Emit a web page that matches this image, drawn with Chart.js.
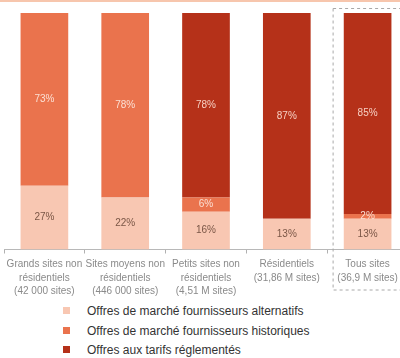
<!DOCTYPE html>
<html><head><meta charset="utf-8">
<script src="https://cdn.jsdelivr.net/npm/chart.js@4"></script>
<style>
html,body{margin:0;padding:0;background:#fff;}
#wrap{position:relative;width:400px;height:358px;overflow:hidden;}
#topline{position:absolute;left:0;top:0;width:400px;height:2px;background:#f7c6ad;}
#cv{position:absolute;left:0;top:0;}
#legend{position:absolute;left:63px;top:302px;font-family:"Liberation Sans",Arial,sans-serif;font-size:12px;color:#333;}
.li{height:19.5px;line-height:19.5px;white-space:nowrap;}
.sw{display:inline-block;width:7px;height:7px;margin-right:17px;vertical-align:middle;position:relative;top:-1px;}
</style></head>
<body><div id="wrap"><canvas id="cv" width="410" height="302" style="width:410px;height:302px"></canvas><div id="topline"></div>
<div id="legend"></div></div>
<script>
const categories = [
  ["Grands sites non","résidentiels","(42 000 sites)"],
  ["Sites moyens non","résidentiels","(446 000 sites)"],
  ["Petits sites non","résidentiels","(4,51 M sites)"],
  ["Résidentiels","(31,86 M sites)"],
  ["Tous sites","(36,9 M sites)"]
];
const seriesNames = ["Offres de marché fournisseurs alternatifs","Offres de marché fournisseurs historiques","Offres aux tarifs réglementés"];
const alternatifs = [27, 22, 16, 13, 13];
const historiques = [73, 78, 6, 0, 2];
const reglementes = [0, 0, 78, 87, 85];
const colors = ["#f8c7b2","#ea734d","#b53119"];
const labelColors = ["#7a5646","#fbe0d4","#f6cfc2"];

const dataLabels = {
  id:'dataLabels',
  afterDatasetsDraw(chart){
    const ctx = chart.ctx;
    ctx.save();
    ctx.font = '10px "Liberation Sans", Arial, sans-serif';
    ctx.textAlign='center'; ctx.textBaseline='middle';
    chart.data.datasets.forEach((ds,i)=>{
      const meta = chart.getDatasetMeta(i);
      meta.data.forEach((bar,j)=>{
        const v = ds.data[j];
        if(!v) return;
        const y = (bar.y + bar.base)/2;
        ctx.fillStyle = labelColors[i];
        ctx.fillText(v+'%', bar.x, y);
      });
    });
    ctx.restore();
  }
};
const dashBox = {
  id:'dashBox',
  afterDraw(chart){
    const ctx=chart.ctx, xs=chart.scales.x, ca=chart.chartArea;
    const x = xs.getPixelForValue(4) - 35;
    const right = xs.getPixelForValue(4) + 45;
    ctx.save();
    ctx.strokeStyle='#a8a8a8'; ctx.lineWidth=1; ctx.setLineDash([3,3]);
    ctx.strokeRect(x+0.5, ca.top-5+0.5, right-x, ca.bottom+40-(ca.top-5));
    ctx.restore();
  }
};

new Chart(document.getElementById('cv'),{
  type:'bar',
  data:{labels:categories,datasets:[
    {label:seriesNames[0],data:alternatifs,backgroundColor:colors[0]},
    {label:seriesNames[1],data:historiques,backgroundColor:colors[1]},
    {label:seriesNames[2],data:reglementes,backgroundColor:colors[2]}
  ]},
  options:{
    responsive:false,animation:false,
    layout:{padding:{top:13,left:4,right:2,bottom:0}},
    plugins:{legend:{display:false},tooltip:{enabled:false}},
    datasets:{bar:{categoryPercentage:1,barPercentage:0.59}},
    scales:{
      x:{stacked:true,
        grid:{display:true,drawOnChartArea:false,drawTicks:true,tickLength:4,color:'#b0b0b0',offset:true},
        border:{display:true,color:'#b8b8b8'},
        ticks:{color:'#8a8a8a',font:{size:10,family:'"Liberation Sans", Arial, sans-serif',lineHeight:1.35},maxRotation:0,autoSkip:false,padding:4}
      },
      y:{stacked:true,display:false,min:0,max:100}
    }
  },
  plugins:[dataLabels,dashBox]
});
const lg=document.getElementById('legend');
seriesNames.forEach((n,i)=>{
  const d=document.createElement('div');d.className='li';
  d.innerHTML='<span class="sw" style="background:'+colors[i]+'"></span>'+n;
  lg.appendChild(d);
});
</script></body></html>
